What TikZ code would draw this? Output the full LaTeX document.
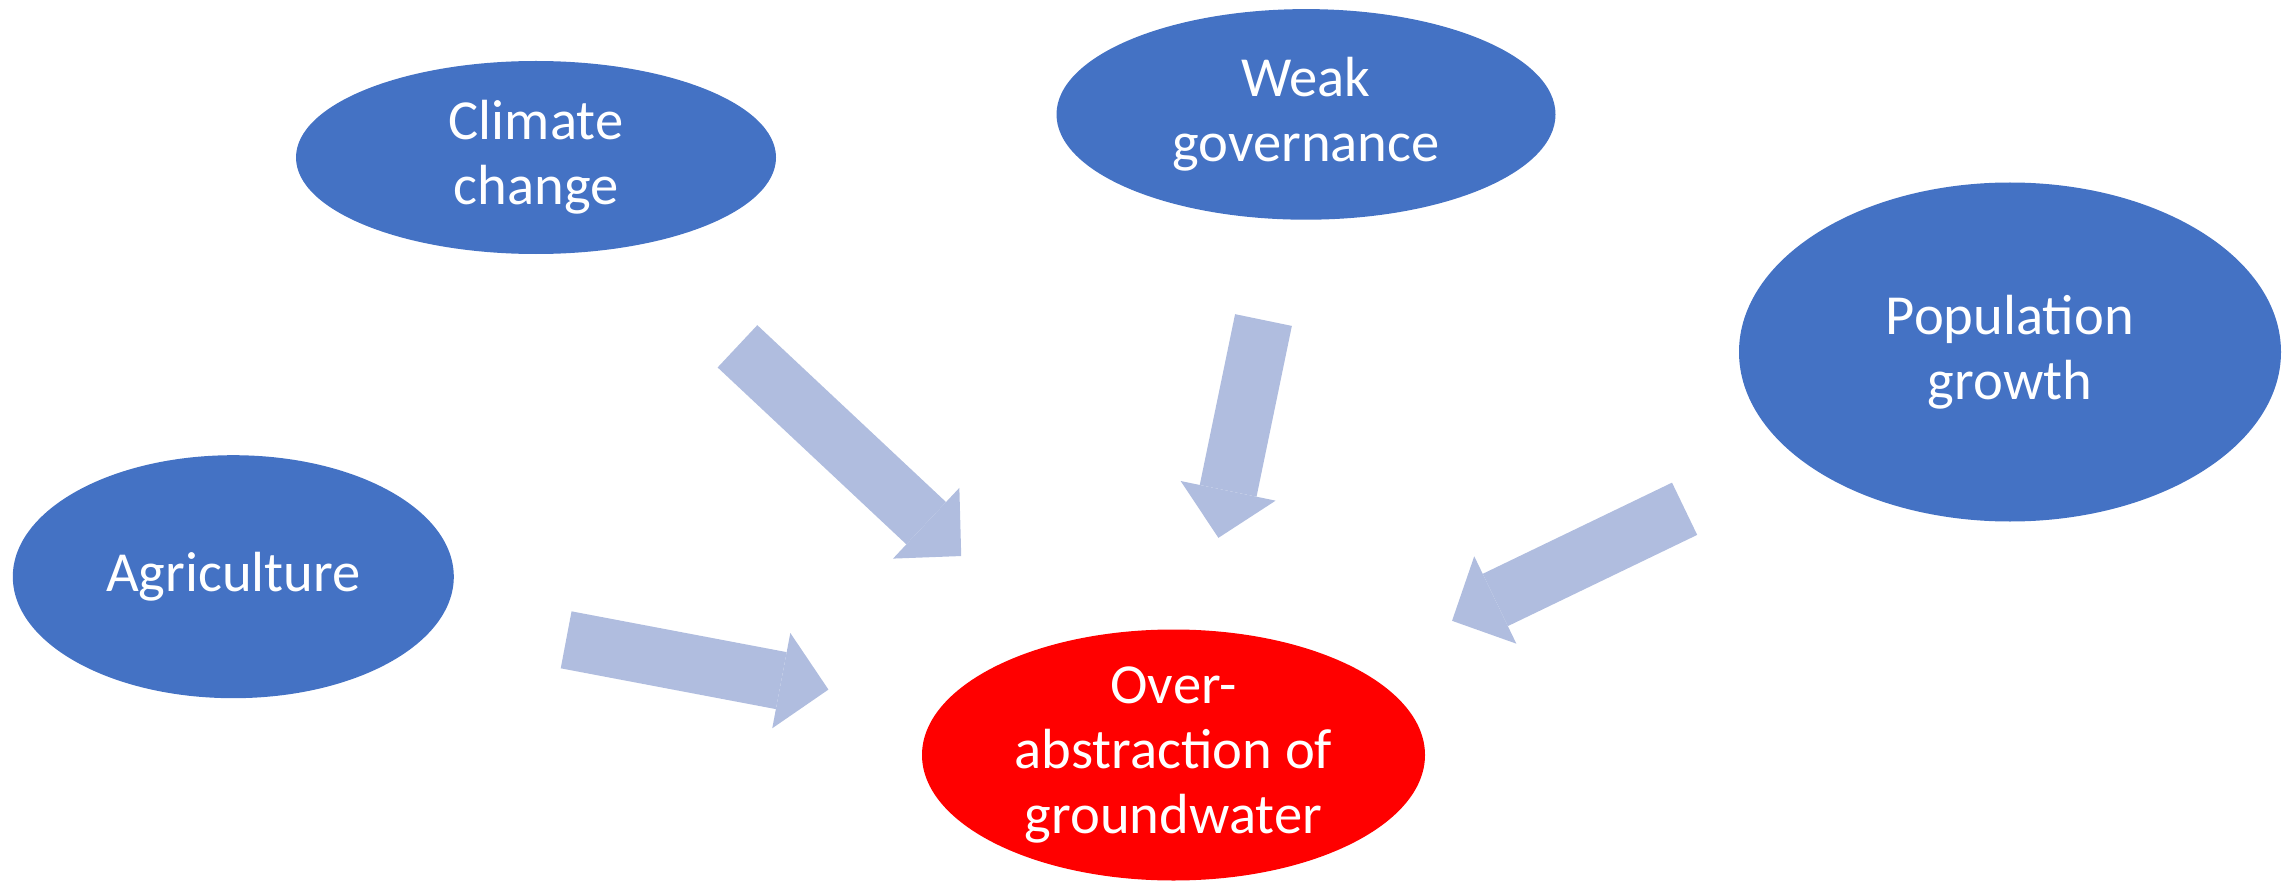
\documentclass[tikz,border=0pt]{standalone}
\usepackage{fontspec}
\setsansfont{Carlito}
\usepackage{xcolor}
\usepackage{tikz}
\usetikzlibrary{calc,arrows.meta,shapes.geometric}
\definecolor{causeblue}{RGB}{68,114,196}
\definecolor{effectred}{RGB}{255,0,0}
\definecolor{arrowblue}{RGB}{176,189,223}
\tikzset{
  figfont/.style={font=\fontsize{16.1}{18.5}\selectfont\sffamily},
  figlabel/.style={figfont, align=center, text=white, inner sep=0pt},
  figellipse/.style={ellipse, inner sep=0pt},
  figcause/.style={figellipse, fill=causeblue},
  figeffect/.style={figellipse, fill=effectred},
  figarrow/.style={-{Triangle[width=9.7mm, length=4.8mm, line width=0pt]}, line width=5.8mm, draw=arrowblue},
}

\begin{document}
\begin{tikzpicture}[figfont, x=1mm, y=1mm]
		% Canvas
		\useasboundingbox (0,0) rectangle (229.2,88);

		% Causes
		\node[figcause, minimum width=48mm, minimum height=19.3mm,
			label={[figlabel]center:{Climate\\change}}] (clim) at (53.6,72.25) {};
		\node[figcause, minimum width=49.9mm, minimum height=21.06mm,
			label={[figlabel]center:{Weak\\governance}}] (weak) at (130.6,76.56) {};
		\node[figcause, minimum width=54.2mm, minimum height=33.9mm,
			label={[figlabel]center:{Population\\growth}}] (pop) at (201.0,52.8) {};
		\node[figcause, minimum width=44.1mm, minimum height=24.3mm,
			label={[figlabel]center:{Agriculture}}] (agri) at (23.33,30.33) {};

		% Effect
		\node[figeffect, minimum width=50.3mm, minimum height=25.1mm,
			label={[figlabel]center:{Over-\\abstraction of\\groundwater}}] (over) at (117.35,12.5) {};

		% Block arrows towards the effect
		\draw[figarrow] ($(clim)!0.316!(over)$) -- ($(clim)!0.667!(over)$);
		\draw[figarrow] ($(weak)!0.321!(over)$) -- ($(weak)!0.661!(over)$);
		\draw[figarrow] ($(pop)!0.389!(over)$) -- ($(pop)!0.667!(over)$);
		\draw[figarrow] ($(agri)!0.354!(over)$) -- ($(agri)!0.633!(over)$);
	\end{tikzpicture}
\end{document}
